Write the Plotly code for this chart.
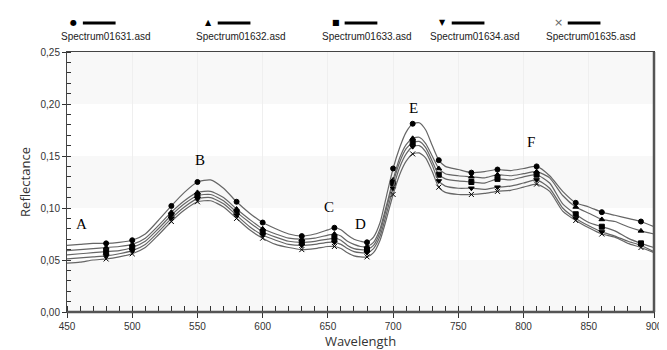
import plotly.graph_objects as go

wavelength = list(range(450, 650, 10)) + list(range(650, 745, 5)) + list(range(750, 910, 10))

s1631 = [.064, .065, .066, .066, .067, .069, .075, .088, .102, .115, .125, .127, .119, .106, .095, .086, .080, .075, .073, .075,
         .079, .081, .079, .074, .070, .068, .067, .072, .086, .112, .138, .158, .173, .181, .182, .175, .160, .146, .140,
         .137, .134, .135, .137, .136, .138, .140, .131, .116, .105, .101, .096, .093, .090, .087, .082]
s1632 = [.059, .060, .061, .062, .063, .065, .071, .083, .096, .107, .115, .116, .110, .099, .089, .080, .075, .071, .070, .071,
         .074, .075, .073, .068, .065, .063, .063, .067, .080, .103, .127, .148, .161, .167, .168, .162, .150, .138, .133,
         .131, .130, .129, .132, .131, .133, .135, .129, .112, .101, .095, .089, .087, .082, .078, .075]
s1633 = [.055, .056, .057, .058, .059, .062, .068, .080, .093, .104, .112, .113, .107, .096, .086, .077, .072, .068, .067, .068,
         .070, .071, .069, .064, .061, .060, .060, .064, .077, .100, .124, .144, .157, .163, .164, .158, .145, .132, .128,
         .126, .125, .124, .128, .127, .130, .132, .124, .104, .094, .086, .082, .078, .071, .066, .062]
s1634 = [.051, .052, .053, .054, .056, .059, .065, .077, .090, .101, .109, .110, .104, .093, .082, .074, .069, .065, .064, .065,
         .067, .067, .065, .061, .058, .057, .057, .061, .073, .095, .119, .139, .152, .159, .160, .154, .141, .126, .121,
         .119, .119, .118, .120, .121, .124, .127, .119, .100, .090, .083, .077, .073, .068, .064, .058]
s1635 = [.047, .048, .050, .051, .053, .056, .062, .074, .087, .098, .106, .107, .101, .090, .079, .071, .065, .062, .060, .061,
         .063, .063, .061, .057, .054, .053, .053, .057, .069, .090, .113, .132, .145, .152, .153, .148, .135, .120, .115,
         .113, .113, .114, .116, .117, .120, .123, .116, .097, .088, .081, .075, .072, .066, .062, .057]

series_names = ["Spectrum01631.asd", "Spectrum01632.asd", "Spectrum01633.asd", "Spectrum01634.asd", "Spectrum01635.asd"]
series_values = [s1631, s1632, s1633, s1634, s1635]
symbols = ["circle", "triangle-up", "square", "triangle-down", "x-thin-open"]
legend_glyphs = ["●", "▲", "■", "▼", "×"]

marker_wl = [480, 500, 530, 550, 580, 600, 630, 655, 680, 700, 715, 735, 760, 780, 810, 840, 860, 890]

point_labels = ["A", "B", "C", "D", "E", "F"]
label_wl = [461, 552, 651, 675, 716, 806]
label_refl = [0.085, 0.146, 0.101, 0.085, 0.196, 0.163]

y_ticks = [0, 0.05, 0.10, 0.15, 0.20, 0.25]
y_ticktext = ["0,00", "0,05", "0,10", "0,15", "0,20", "0,25"]
x_ticks = list(range(450, 901, 50))

W, H = 667, 350
ml, mr, mt, mb = 59, 16, 44, 46
pw, ph = W - ml - mr, H - mt - mb


def px_x(px):
    return (px - ml) / pw


def px_y(py_from_top):
    return (H - py_from_top - mb) / ph


fig = go.Figure()

for name, vals, sym in zip(series_names, series_values, symbols):
    fig.add_trace(go.Scatter(x=wavelength, y=vals, mode="lines", name=name,
                             line=dict(color="#666666", width=1.2, shape="spline", smoothing=0.6),
                             showlegend=False, hoverinfo="skip"))
    idx = [wavelength.index(w) for w in marker_wl]
    fig.add_trace(go.Scatter(x=[wavelength[i] for i in idx], y=[vals[i] for i in idx], mode="markers",
                             marker=dict(symbol=sym, size=5, color="black",
                                         line=dict(color="black", width=1)),
                             showlegend=False, hoverinfo="skip"))

shapes = []
for lo in [0.0, 0.10, 0.20]:
    shapes.append(dict(type="rect", xref="x", yref="y", x0=450, x1=900, y0=lo, y1=lo + 0.05,
                       fillcolor="#f8f8f8", line=dict(width=0), layer="below"))
shapes.append(dict(type="line", xref="paper", yref="paper", x0=1.0, x1=1.0, y0=0, y1=1,
                   line=dict(color="#555555", width=2.5)))
shapes.append(dict(type="line", xref="paper", yref="paper", x0=0, x1=1.0, y0=0, y1=0,
                   line=dict(color="#555555", width=2.5)))

annotations = []
for t, xw, yr in zip(point_labels, label_wl, label_refl):
    annotations.append(dict(x=xw, y=yr, xref="x", yref="y", text=t, showarrow=False,
                            xanchor="center", yanchor="middle",
                            font=dict(family="Liberation Serif, Times New Roman, serif", size=15, color="black")))

leg_centers = [98, 234, 362, 470, 587]
for name, glyph, cx in zip(series_names, legend_glyphs, leg_centers):
    annotations.append(dict(x=px_x(cx), y=px_y(28), xref="paper", yref="paper", text=name, showarrow=False,
                            xanchor="center", yanchor="middle",
                            font=dict(family="Liberation Sans, Arial, sans-serif", size=10, color="#222")))
    gx = cx - 32
    annotations.append(dict(x=px_x(gx), y=px_y(15), xref="paper", yref="paper", text=glyph, showarrow=False,
                            xanchor="center", yanchor="middle",
                            font=dict(family="DejaVu Sans, sans-serif", size=8 if glyph != "×" else 11,
                                      color="black" if glyph != "×" else "#666")))
    shapes.append(dict(type="line", xref="paper", yref="paper", x0=px_x(gx + 9), x1=px_x(gx + 42),
                       y0=px_y(15), y1=px_y(15), line=dict(color="black", width=3)))

fig.update_layout(
    width=W, height=H,
    margin=dict(l=ml, r=mr, t=mt, b=mb),
    paper_bgcolor="white", plot_bgcolor="white",
    shapes=shapes, annotations=annotations,
    xaxis=dict(range=[450, 900], tickvals=x_ticks, ticks="outside", ticklen=5, tickcolor="#333",
               showline=True, linecolor="#444", linewidth=1, mirror=True,
               showgrid=True, gridcolor="#efefef", gridwidth=1, zeroline=False,
               minor=dict(dtick=10, ticks="inside", ticklen=6, tickcolor="#333", showgrid=False),
               tickfont=dict(family="Liberation Sans, Arial, sans-serif", size=10, color="#333"),
               title=dict(text="Wavelength", standoff=4,
                          font=dict(family="Open Sans, sans-serif", size=13, color="#333"))),
    yaxis=dict(range=[0, 0.25], tickvals=y_ticks, ticktext=y_ticktext, ticks="outside", ticklen=4, tickcolor="#333",
               showline=True, linecolor="#444", linewidth=1, mirror=True,
               showgrid=False, zeroline=False,
               minor=dict(dtick=0.01, ticks="inside", ticklen=4, tickcolor="#333", showgrid=False),
               tickfont=dict(family="Liberation Sans, Arial, sans-serif", size=10, color="#333"),
               title=dict(text="Reflectance", standoff=6,
                          font=dict(family="Open Sans, sans-serif", size=13, color="#333"))),
)

fig.write_html("out.html")
